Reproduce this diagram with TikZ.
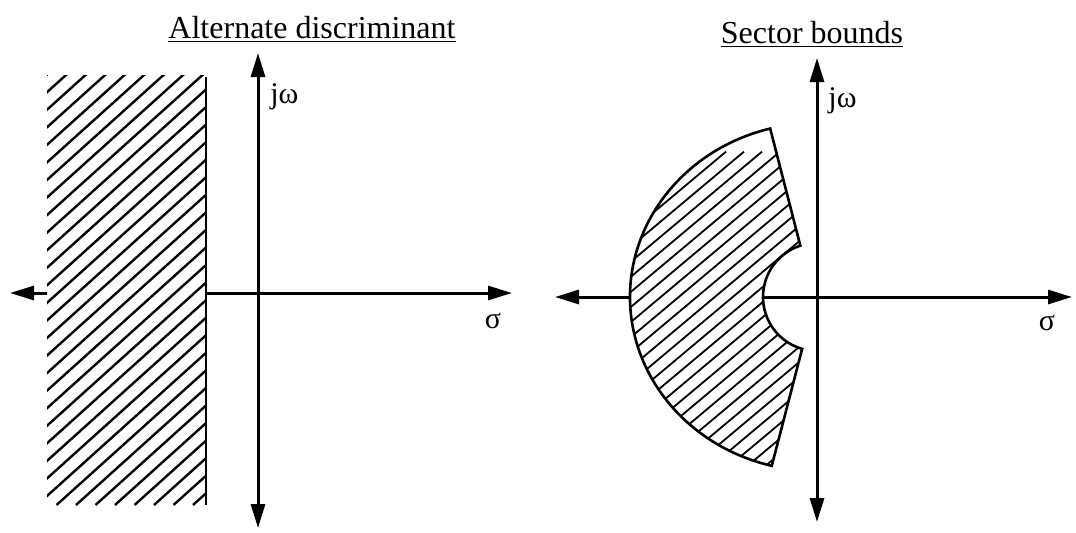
\documentclass[tikz,border=0pt]{standalone}
\usepackage{fontspec}
\setmainfont{Liberation Serif}
\usetikzlibrary{arrows.meta}
\tikzset{
  sbAxis/.style={line width=1.5pt,{Triangle[length=12pt,width=7pt]}-{Triangle[length=12pt,width=7pt]}},
  sbEdge/.style={line width=1.3pt},
  sbHatch/.style={line width=1.2pt},
  sbTitle/.style={font=\fontsize{16}{19}\selectfont,anchor=base,inner sep=0pt},
  sbLbl/.style={font=\fontsize{15}{18}\selectfont,anchor=base west,inner sep=0pt},
}
% sector shape, local coordinates round the origin of the right plane
\newcommand{\sbSector}{(108:54) -- (104.5:187 and 174)
  arc[start angle=104.5,end angle=256,x radius=187,y radius=174]
  -- (254:54) arc[start angle=254,end angle=108,radius=54] -- cycle}

\begin{document}
\begin{tikzpicture}[x=0.5pt,y=0.5pt]
  \useasboundingbox (0,0) rectangle (1076,532);

  % left plane
  \node[sbTitle] (tL) at (312,494) {\underline{Alternate discriminant}};
  \coordinate (lW) at (10,239);
  \coordinate (lE) at (512,239);
  \coordinate (lN) at (258,479);
  \coordinate (lS) at (258,4);
  \draw[sbAxis] (lW) -- (lE);
  \draw[sbAxis] (lS) -- (lN);
  \node[sbLbl] (wL) at (270,429) {jω};
  \node[sbLbl,anchor=base] (sL) at (493,204) {σ};

  \fill[white] (47,27) rectangle (206,457);
  \begin{scope}
    \clip (47,27) rectangle (206,457);
    \foreach \k in {0,...,33}
      \draw[sbHatch] (-431+\k*19.5,27) -- ++(42:700);
  \end{scope}
  \coordinate (hT) at (206,455);
  \coordinate (hB) at (206,27);
  \draw[sbEdge] (hT) -- (hB);

  % right plane
  \node[sbTitle] (tR) at (812,489) {\underline{Sector bounds}};
  \coordinate (rW) at (555,235);
  \coordinate (rE) at (1072,235);
  \coordinate (rN) at (817,474);
  \coordinate (rS) at (817,10);
  \draw[sbAxis] (rW) -- (rE);
  \draw[sbAxis] (rS) -- (rN);
  \node[sbLbl] (wR) at (828,425) {jω};
  \node[sbLbl,anchor=base] (sR) at (1047,202) {σ};

  \begin{scope}[shift={(817,235)}]
    \fill[white] \sbSector;
    \begin{scope}
      \clip \sbSector;
      \foreach \k in {0,...,33}
        \draw[line width=0.9pt] (-600+\k*18,-176) -- ++(40:500);
    \end{scope}
    \draw[sbEdge] \sbSector;
  \end{scope}
\end{tikzpicture}
\end{document}
